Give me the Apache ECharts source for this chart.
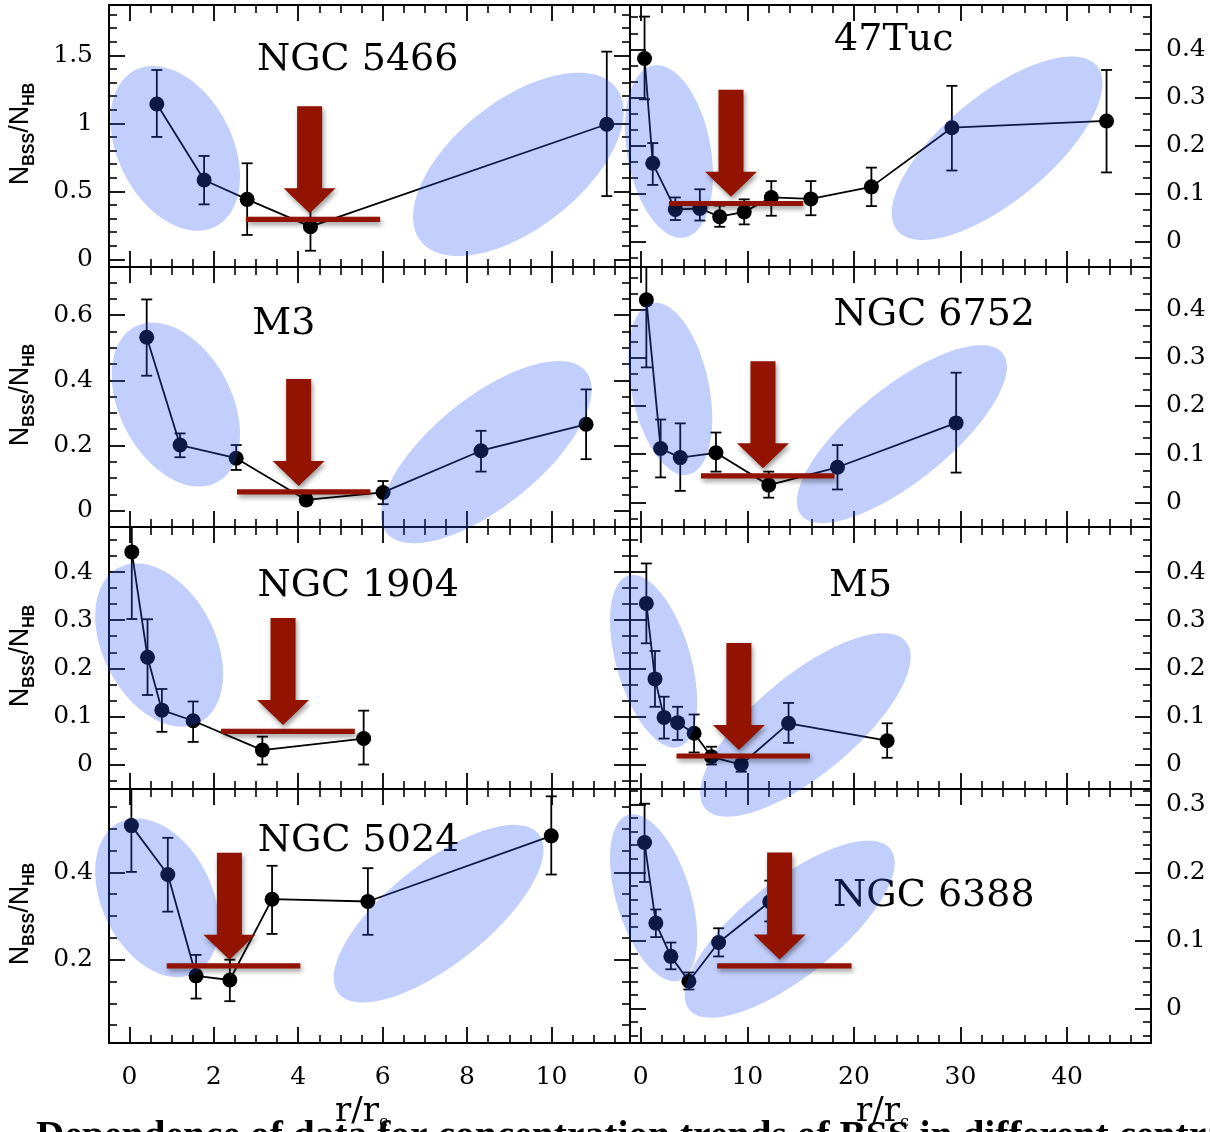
<!DOCTYPE html>
<html>
<head>
<meta charset="utf-8">
<script src="https://cdn.jsdelivr.net/npm/echarts@6/dist/echarts.min.js"></script>
<style>
  html, body { margin: 0; padding: 0; background: #ffffff; }
  #chart { width: 1210px; height: 1132px; }
</style>
</head>
<body>
<div id="chart"></div>
<script>
// ---------------------------------------------------------------------------
// Radial profiles of the specific frequency N_BSS / N_HB in eight clusters.
// Each cluster: r (in units of the core radius), ratio, lower / upper error.
// ---------------------------------------------------------------------------
const rNGC5466     = [0.65, 1.77, 2.79, 4.29, 11.31];
const yNGC5466     = [1.142, 0.583, 0.441, 0.24, 0.993];
const loNGC5466    = [0.90, 0.404, 0.179, 0.063, 0.465];
const hiNGC5466    = [1.392, 0.76, 0.706, 0.42, 1.527];

const r47Tuc       = [0.36, 1.13, 3.25, 5.55, 7.41, 9.71, 12.25, 15.96, 21.64, 29.19, 43.7];
const y47Tuc       = [0.381, 0.163, 0.067, 0.069, 0.052, 0.062, 0.092, 0.089, 0.114, 0.237, 0.251];
const lo47Tuc      = [0.296, 0.118, 0.045, 0.044, 0.031, 0.036, 0.054, 0.055, 0.074, 0.148, 0.144];
const hi47Tuc      = [0.468, 0.205, 0.092, 0.109, 0.075, 0.088, 0.126, 0.126, 0.154, 0.324, 0.357];

const rM3          = [0.41, 1.20, 2.53, 4.19, 6.01, 8.33, 10.82];
const yM3          = [0.532, 0.2015, 0.161, 0.033, 0.056, 0.184, 0.265];
const loM3         = [0.414, 0.164, 0.125, 0.018, 0.02, 0.12, 0.158];
const hiM3         = [0.648, 0.237, 0.2015, 0.05, 0.091, 0.245, 0.372];

const rNGC6752     = [0.53, 1.87, 3.71, 7.06, 12.01, 18.46, 29.59];
const yNGC6752     = [0.42, 0.112, 0.093, 0.103, 0.036, 0.073, 0.165];
const loNGC6752    = [0.28, 0.052, 0.024, 0.064, 0.01, 0.027, 0.062];
const hiNGC6752    = [0.56, 0.172, 0.164, 0.145, 0.064, 0.119, 0.269];

const rNGC1904     = [0.057, 0.43, 0.77, 1.51, 3.15, 5.55];
const yNGC1904     = [0.442, 0.223, 0.113, 0.091, 0.030, 0.054];
const loNGC1904    = [0.3025, 0.1445, 0.068, 0.047, 0.0, 0.0];
const hiNGC1904    = [0.58, 0.302, 0.157, 0.131, 0.058, 0.112];

const rM5          = [0.53, 1.34, 2.19, 3.46, 5.01, 6.64, 9.43, 13.87, 23.12];
const yM5          = [0.335, 0.178, 0.098, 0.087, 0.065, 0.016, 0.0, 0.0856, 0.0495];
const loM5         = [0.252, 0.12, 0.054, 0.051, 0.025, 0.0, -0.015, 0.045, 0.014];
const hiM5         = [0.418, 0.236, 0.141, 0.12, 0.104, 0.037, 0.02, 0.128, 0.0857];

const rNGC5024     = [0.047, 0.91, 1.58, 2.38, 3.38, 5.65, 9.995];
const yNGC5024     = [0.507, 0.395, 0.163, 0.1535, 0.3385, 0.3333, 0.4835];
const loNGC5024    = [0.401, 0.31, 0.111, 0.105, 0.259, 0.257, 0.395];
const hiNGC5024    = [0.61, 0.479, 0.211, 0.2, 0.415, 0.4095, 0.574];

const rNGC6388     = [0.36, 1.42, 2.83, 4.52, 7.31, 12.11];
const yNGC6388     = [0.2439, 0.1256, 0.0767, 0.0402, 0.097, 0.157];
const loNGC6388    = [0.186, 0.105, 0.0577, 0.028, 0.0766, 0.128];
const hiNGC6388    = [0.301, 0.1456, 0.097, 0.053, 0.118, 0.188];

// Shaded regions, in data units: [xMin, xMax, yMin, yMax, x of the topmost point]
const regNGC5466 = [[-0.448, 2.62, 0.21, 1.421, 0.56], [6.72, 11.71, 0.024, 1.372, 10.64]];
const reg47Tuc   = [[-1.47, 6.78, 0.008, 0.367, 1.53], [23.55, 43.32, 0.0035, 0.385, 40.42]];
const regM3      = [[-0.42, 2.62, 0.074, 0.577, 0.55], [5.96, 10.95, -0.10, 0.459, 10.17]];
const regNGC6752 = [[-1.16, 6.71, 0.057, 0.414, 1.42], [14.65, 34.35, -0.0425, 0.326, 31.95]];
const regNGC1904 = [[-0.81, 2.22, 0.0786, 0.418, 0.17]];
const regM5      = [[-2.88, 5.30, 0.035, 0.394, -0.72], [5.58, 25.32, -0.1085, 0.273, 22.78]];
const regNGC5024 = [[-0.81, 2.12, 0.16, 0.5235, 0.17], [4.84, 9.81, 0.102, 0.5087, 9.12]];
const regNGC6388 = [[-2.88, 5.30, 0.0402, 0.2856, -0.72], [4.13, 23.83, -0.0135, 0.2467, 21.36]];

// Minimum marker: [arrow x, arrow tip y, level from x, level to x, level y]
const minNGC5466 = [4.27, 0.338, 2.76, 5.94, 0.293];
const min47Tuc   = [8.47, 0.0936, 2.65, 15.25, 0.0794];
const minM3      = [4.01, 0.0758, 2.55, 5.71, 0.058];
const minNGC6752 = [11.47, 0.0709, 5.65, 18.18, 0.0553];
const minNGC1904 = [3.64, 0.082, 2.17, 5.34, 0.069];
const minM5      = [9.21, 0.030, 3.36, 15.88, 0.0177];
const minNGC5024 = [2.37, 0.20, 0.885, 4.05, 0.186];
const minNGC6388 = [13.03, 0.072, 7.17, 19.78, 0.0627];

// Cluster label anchor in data units
const labNGC5466 = [5.41, 1.484];
const lab47Tuc   = [23.74, 0.4245];
const labM3      = [3.66, 0.581];
const labNGC6752 = [27.54, 0.394];
const labNGC1904 = [5.42, 0.377];
const labM5      = [20.62, 0.377];
const labNGC5024 = [5.43, 0.478];
const labNGC6388 = [27.5, 0.169];

// Axis ticks
const xMajorLeft  = [0, 2, 4, 6, 8, 10];
const xMinorLeft  = [0.5, 1, 1.5, 2.5, 3, 3.5, 4.5, 5, 5.5, 6.5, 7, 7.5, 8.5, 9, 9.5, 10.5, 11, 11.5];
const xMajorRight = [0, 10, 20, 30, 40];
const xMinorRight = [2, 4, 6, 8, 12, 14, 16, 18, 22, 24, 26, 28, 32, 34, 36, 38, 42, 44, 46];

const yMajorA = [0, 0.5, 1, 1.5];
const yMinorA = [0.1, 0.2, 0.3, 0.4, 0.6, 0.7, 0.8, 0.9, 1.1, 1.2, 1.3, 1.4, 1.6, 1.7, 1.8];
const yMajorB = [0, 0.1, 0.2, 0.3, 0.4];
const yMinorB = [-0.0333, 0.0333, 0.0667, 0.1333, 0.1667, 0.2333, 0.2667, 0.3333, 0.3667, 0.4333, 0.4667];
const yMajorC = [0, 0.2, 0.4, 0.6];
const yMinorC = [0.05, 0.1, 0.15, 0.25, 0.3, 0.35, 0.45, 0.5, 0.55, 0.65, 0.7];
const yMajorD = [0.2, 0.4];
const yMinorD = [0.05, 0.1, 0.15, 0.25, 0.3, 0.35, 0.45, 0.5, 0.55];
const yMajorE = [0, 0.1, 0.2, 0.3];
const yMinorE = [-0.04, -0.02, 0.02, 0.04, 0.06, 0.08, 0.12, 0.14, 0.16, 0.18, 0.22, 0.24, 0.26, 0.28, 0.32];

const captionText = 'Dependence of data for concentration trends of BSS in different central densities';

// ---------------------------------------------------------------------------
const panels = [
  { name: 'NGC 5466', col: 0, row: 0, r: rNGC5466, y: yNGC5466, lo: loNGC5466, hi: hiNGC5466,
    reg: regNGC5466, mark: minNGC5466, lab: labNGC5466, yMin: -0.0566, yMax: 1.8699, yMajor: yMajorA, yMinor: yMinorA },
  { name: '47Tuc', col: 1, row: 0, r: r47Tuc, y: y47Tuc, lo: lo47Tuc, hi: hi47Tuc,
    reg: reg47Tuc, mark: min47Tuc, lab: lab47Tuc, yMin: -0.0526, yMax: 0.4921, yMajor: yMajorB, yMinor: yMinorB },
  { name: 'M3', col: 0, row: 1, r: rM3, y: yM3, lo: loM3, hi: hiM3,
    reg: regM3, mark: minM3, lab: labM3, yMin: -0.05, yMax: 0.7475, yMajor: yMajorC, yMinor: yMinorC },
  { name: 'NGC 6752', col: 1, row: 1, r: rNGC6752, y: yNGC6752, lo: loNGC6752, hi: hiNGC6752,
    reg: regNGC6752, mark: minNGC6752, lab: labNGC6752, yMin: -0.0508, yMax: 0.4881, yMajor: yMajorB, yMinor: yMinorB },
  { name: 'NGC 1904', col: 0, row: 2, r: rNGC1904, y: yNGC1904, lo: loNGC1904, hi: hiNGC1904,
    reg: regNGC1904, mark: minNGC1904, lab: labNGC1904, yMin: -0.0509, yMax: 0.4938, yMajor: yMajorB, yMinor: yMinorB },
  { name: 'M5', col: 1, row: 2, r: rM5, y: yM5, lo: loM5, hi: hiM5,
    reg: regM5, mark: minM5, lab: labM5, yMin: -0.0509, yMax: 0.4938, yMajor: yMajorB, yMinor: yMinorB },
  { name: 'NGC 5024', col: 0, row: 3, r: rNGC5024, y: yNGC5024, lo: loNGC5024, hi: hiNGC5024,
    reg: regNGC5024, mark: minNGC5024, lab: labNGC5024, yMin: 0.0093, yMax: 0.5908, yMajor: yMajorD, yMinor: yMinorD },
  { name: 'NGC 6388', col: 1, row: 3, r: rNGC6388, y: yNGC6388, lo: loNGC6388, hi: hiNGC6388,
    reg: regNGC6388, mark: minNGC6388, lab: labNGC6388, yMin: -0.0506, yMax: 0.3226, yMajor: yMajorE, yMinor: yMinorE }
];

const rowTop    = [5, 267, 527, 789];
const rowHeight = [262, 260, 262, 262];
const colLeft   = [109, 630];
const colWidth  = [521, 521];
const xRange    = [[-0.483, 11.86], [-1.004, 47.87]];
const xMajor    = [xMajorLeft, xMajorRight];
const xMinor    = [xMinorLeft, xMinorRight];

const SERIF = 'DejaVu Serif';
const INK = '#000000';
const SHADE = 'rgba(45, 85, 240, 0.29)';
const RED = '#921300';

const grids = [], xAxes = [], yAxes = [], series = [];

function axisPair(gridIndex, position, min, max, major, minor, label, name) {
  const base = { type: 'value', gridIndex, position, min, max, silent: true,
                 splitLine: { show: false } };
  const main = Object.assign({}, base, {
    axisLine: { show: true, onZero: false, lineStyle: { color: INK, width: 2 } },
    axisTick: { show: true, inside: true, length: 16, customValues: major,
                lineStyle: { color: INK, width: 1.8 } },
    axisLabel: label ? Object.assign({ show: true, customValues: major, fontFamily: SERIF,
                fontSize: 25, color: INK }, label) : { show: false }
  });
  if (name) Object.assign(main, name);
  const sub = Object.assign({}, base, {
    axisLine: { show: false, onZero: false },
    axisTick: { show: true, inside: true, length: 8, customValues: minor,
                lineStyle: { color: INK, width: 1.6 } },
    axisLabel: { show: false }
  });
  return [main, sub];
}

panels.forEach((p, i) => {
  grids.push({ left: colLeft[p.col], top: rowTop[p.row], width: colWidth[p.col],
               height: rowHeight[p.row], containLabel: false });
  const [xmin, xmax] = xRange[p.col];
  const bottomRow = p.row === 3;
  const xName = bottomRow ? {
    name: '{a|r/r}{b|c}', nameLocation: 'middle', nameGap: 50,
    nameTextStyle: { padding: [0, 16, 0, 0], rich: {
      a: { fontFamily: SERIF, fontSize: 34, color: INK, lineHeight: 38 },
      b: { fontFamily: SERIF, fontSize: 16, color: INK, lineHeight: 22, verticalAlign: 'bottom' }
    } }
  } : null;
  xAxes.push(...axisPair(i, 'bottom', xmin, xmax, xMajor[p.col], xMinor[p.col],
                         bottomRow ? { margin: 22 } : null, xName));
  xAxes.push(...axisPair(i, 'top', xmin, xmax, xMajor[p.col], xMinor[p.col], null, null));

  const labelSide = p.col === 0 ? 'left' : 'right';
  const otherSide = p.col === 0 ? 'right' : 'left';
  const yName = p.col === 0 ? {
    name: '{n|N}{s|BSS}{n|/N}{s|HB}', nameLocation: 'middle', nameGap: 71, nameRotate: 90,
    nameTextStyle: { padding: [0, 0, 0, 4], rich: {
      n: { fontFamily: 'Liberation Sans', fontSize: 27, color: INK, lineHeight: 34 },
      s: { fontFamily: 'Liberation Sans', fontWeight: 'bold', fontSize: 16, color: INK,
           lineHeight: 20, verticalAlign: 'bottom' }
    } }
  } : null;
  yAxes.push(...axisPair(i, labelSide, p.yMin, p.yMax, p.yMajor, p.yMinor,
                         { margin: p.col === 0 ? 16 : 15 }, yName));
  yAxes.push(...axisPair(i, otherSide, p.yMin, p.yMax, p.yMajor, p.yMinor, null, null));

  const xi = 4 * i, yi = 4 * i;

  // cluster label
  series.push({
    type: 'custom', xAxisIndex: xi, yAxisIndex: yi, z: 3, silent: true,
    data: [p.lab],
    renderItem: (params, api) => {
      const c = api.coord([api.value(0), api.value(1)]);
      return { type: 'text', x: c[0], y: c[1] + 3,
               style: { text: p.name, fontFamily: SERIF, fontSize: 38, fill: INK,
                        align: 'center', verticalAlign: 'middle' } };
    }
  });

  // error bars
  series.push({
    type: 'custom', xAxisIndex: xi, yAxisIndex: yi, z: 4, silent: true, clip: true,
    data: p.r.map((x, k) => [x, p.lo[k], p.hi[k]]),
    renderItem: (params, api) => {
      const a = api.coord([api.value(0), api.value(1)]);
      const b = api.coord([api.value(0), api.value(2)]);
      const w = 5.5, st = { stroke: INK, lineWidth: 1.8 };
      return { type: 'group', children: [
        { type: 'line', shape: { x1: a[0], y1: a[1], x2: b[0], y2: b[1] }, style: st },
        { type: 'line', shape: { x1: a[0] - w, y1: a[1], x2: a[0] + w, y2: a[1] }, style: st },
        { type: 'line', shape: { x1: b[0] - w, y1: b[1], x2: b[0] + w, y2: b[1] }, style: st }
      ] };
    }
  });

  // profile
  series.push({
    type: 'line', xAxisIndex: xi, yAxisIndex: yi, z: 5, silent: true,
    data: p.r.map((x, k) => [x, p.y[k]]),
    symbol: 'circle', symbolSize: 15, showSymbol: true,
    itemStyle: { color: INK },
    lineStyle: { color: INK, width: 1.8 },
    animation: false
  });

  // translucent regions (drawn over the profile)
  series.push({
    type: 'custom', xAxisIndex: xi, yAxisIndex: yi, z: 10, silent: true, clip: false,
    data: p.reg,
    renderItem: (params, api) => {
      const x0 = api.value(0), x1 = api.value(1), y0 = api.value(2), y1 = api.value(3), xt = api.value(4);
      const tl = api.coord([x0, y1]), br = api.coord([x1, y0]), tp = api.coord([xt, y1]);
      const cx = (tl[0] + br[0]) / 2, cy = (tl[1] + br[1]) / 2;
      const W = Math.abs(br[0] - tl[0]) / 2, H = Math.abs(br[1] - tl[1]) / 2;
      const K = -(tp[0] - cx) * H;
      const S = W * W + H * H;
      const D = Math.sqrt((W * W - H * H) ** 2 + 4 * K * K);
      const ra = Math.sqrt((S + D) / 2), rb = Math.sqrt(Math.max(0, (S - D) / 2));
      const phi = Math.atan2(2 * K, W * W - H * H) / 2;
      const ux = Math.cos(phi), uy = Math.sin(phi);
      const pts = [];
      for (let k = 0; k < 120; k++) {
        const t = (k / 120) * Math.PI * 2;
        const ca = ra * Math.cos(t), sb = rb * Math.sin(t);
        pts.push([cx + ca * ux - sb * uy, cy + ca * uy + sb * ux]);
      }
      return { type: 'polygon', shape: { points: pts }, style: { fill: SHADE } };
    }
  });

  // minimum level and arrow
  series.push({
    type: 'custom', xAxisIndex: xi, yAxisIndex: yi, z: 12, silent: true, clip: false,
    data: [p.mark],
    renderItem: (params, api) => {
      const tip = api.coord([api.value(0), api.value(1)]);
      const l0 = api.coord([api.value(2), api.value(4)]);
      const l1 = api.coord([api.value(3), api.value(4)]);
      const shadow = { shadowColor: 'rgba(0,0,0,0.4)', shadowBlur: 5, shadowOffsetX: 1.5, shadowOffsetY: 3 };
      const tx = tip[0], ty = tip[1];
      const hw = 26, sw = 12.5, hh = 25, len = 107;
      return { type: 'group', children: [
        { type: 'rect', shape: { x: l0[0], y: l0[1] - 2.6, width: l1[0] - l0[0], height: 5.2 },
          style: Object.assign({ fill: RED }, shadow) },
        { type: 'polygon', shape: { points: [
            [tx, ty], [tx - hw, ty - hh], [tx - sw, ty - hh], [tx - sw, ty - len],
            [tx + sw, ty - len], [tx + sw, ty - hh], [tx + hw, ty - hh] ] },
          style: Object.assign({ fill: RED }, shadow) }
      ] };
    }
  });
});

const chart = echarts.init(document.getElementById('chart'), null, { renderer: 'canvas' });
chart.setOption({
  backgroundColor: '#ffffff',
  animation: false,
  grid: grids,
  xAxis: xAxes,
  yAxis: yAxes,
  series: series,
  graphic: [{
    type: 'text', left: 36, top: 1118, z: 20,
    style: { text: captionText, fontFamily: 'Liberation Serif', fontWeight: 'bold',
             fontSize: 39.5, fill: INK }
  }]
});
</script>
</body>
</html>
